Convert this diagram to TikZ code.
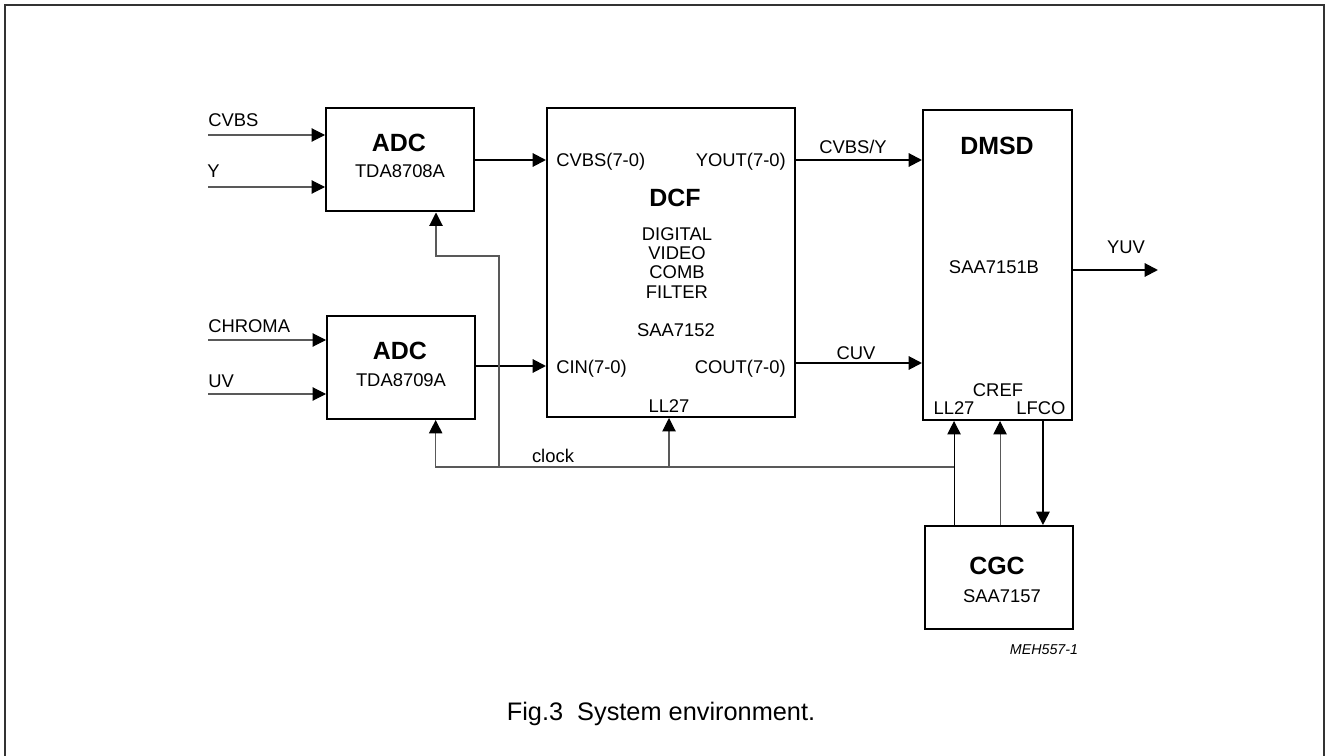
\documentclass[tikz,border=0pt]{standalone}
\usepackage{fontspec}
\setmainfont{Liberation Sans}
\usetikzlibrary{arrows.meta}
\usetikzlibrary{calc}

\tikzset{
  box/.style={draw, line width=1.5pt, inner sep=0pt},
  lbl/.style={inner sep=0pt, font=\fontsize{13.8}{16}\selectfont},
  ttl/.style={inner sep=0pt, font=\fontsize{18.7}{22}\selectfont\bfseries},
  tip/.style={-{Triangle[length=10pt,width=10pt,color=black]}},
  sig/.style={tip, line width=1.5pt},
  wire/.style={tip, draw=black!65, line width=0.8pt}
}

\begin{document}
\begin{tikzpicture}[x=0.75pt,y=-0.75pt]
  \useasboundingbox (0,0) rectangle (1329,756);
  \draw[line width=1.5pt,black!80] (5,756) -- (5,5) -- (1324,5) -- (1324,756);

  % blocks
  \node[box, minimum width=111pt, minimum height=77.25pt] (adc1) at (400,160) {};
  \node[box, minimum width=111pt, minimum height=77.25pt] (adc2) at (401,367.5) {};
  \node[box, minimum width=186pt, minimum height=231.75pt] (dcf) at (671,262.5) {};
  \node[box, minimum width=111.75pt, minimum height=232.5pt] (dmsd) at (997.5,265) {};
  \node[box, minimum width=111pt, minimum height=77.25pt] (cgc) at (999,577.5) {};

  % block texts
  \node[ttl, anchor=base] (adc1t) at (399,152) {ADC};
  \node[lbl, anchor=base] (adc1n) at (400,178) {TDA8708A};
  \node[ttl, anchor=base] (adc2t) at (400,359) {ADC};
  \node[lbl, anchor=base] (adc2n) at (401,386) {TDA8709A};
  \node[ttl, anchor=base] (dcft) at (675,207) {DCF};
  \node[lbl, anchor=base] (dcf1) at (677,241) {DIGITAL};
  \node[lbl, anchor=base] (dcf2) at (677,260) {VIDEO};
  \node[lbl, anchor=base] (dcf3) at (677,279) {COMB};
  \node[lbl, anchor=base] (dcf4) at (677,298) {FILTER};
  \node[lbl, anchor=base] (dcfn) at (676,336) {SAA7152};
  \node[lbl, anchor=base west] (cvbsp) at (556,167) {CVBS(7-0)};
  \node[lbl, anchor=base east] (youtp) at (786,167) {YOUT(7-0)};
  \node[lbl, anchor=base west] (cinp) at (556,373) {CIN(7-0)};
  \node[lbl, anchor=base east] (coutp) at (786,373) {COUT(7-0)};
  \node[lbl, anchor=base] (dcfllp) at (669,412) {LL27};
  \node[ttl, anchor=base] (dmsdt) at (997,155) {DMSD};
  \node[lbl, anchor=base] (dmsdn) at (994,274) {SAA7151B};
  \node[lbl, anchor=base] (crefp) at (998,396) {CREF};
  \node[lbl, anchor=base] (dmsdllp) at (954,414) {LL27};
  \node[lbl, anchor=base] (lfcop) at (1041,414) {LFCO};
  \node[ttl, anchor=base] (cgct) at (997,574) {CGC};
  \node[lbl, anchor=base] (cgcn) at (1002,602) {SAA7157};

  % inputs
  \coordinate (cvbsin) at (208,135);
  \coordinate (yin) at (208,187);
  \coordinate (chromain) at (208,340);
  \coordinate (uvin) at (208,394);
  \draw[wire] (cvbsin) -- (cvbsin -| adc1.west);
  \draw[wire] (yin) -- (yin -| adc1.west);
  \draw[wire] (chromain) -- (chromain -| adc2.west);
  \draw[wire] (uvin) -- (uvin -| adc2.west);
  \node[lbl, anchor=base west] (cvbsl) at (208,127) {CVBS};
  \node[lbl, anchor=base west] (yl) at (207,178) {Y};
  \node[lbl, anchor=base west] (chromal) at (208,332) {CHROMA};
  \node[lbl, anchor=base west] (uvl) at (208,387) {UV};

  % data paths
  \coordinate (yrow) at (0,160);
  \coordinate (crow) at (0,366);
  \coordinate (uvrow) at (0,363);
  \coordinate (yuvend) at (1158,270);
  \draw[sig] (adc1.east |- yrow) -- (dcf.west |- yrow);
  \draw[sig] (adc2.east |- crow) -- (dcf.west |- crow);
  \draw[sig] (dcf.east |- yrow) -- (dmsd.west |- yrow);
  \draw[sig] (dcf.east |- uvrow) -- (dmsd.west |- uvrow);
  \draw[sig] (dmsd.east |- yuvend) -- (yuvend);
  \node[lbl, anchor=base] (cvbsyl) at (853,154) {CVBS/Y};
  \node[lbl, anchor=base] (cuvl) at (856,359) {CUV};
  \node[lbl, anchor=base] (yuvl) at (1126,254) {YUV};

  % clock distribution
  \coordinate (clk) at (0,467);
  \coordinate (tap) at (499,256);
  \coordinate (ck1) at ([xshift=27pt]adc1.south);
  \coordinate (ck2) at ([xshift=26pt]adc2.south);
  \coordinate (dcfck) at ([xshift=-1.5pt]dcf.south);
  \coordinate (dmsdll) at ([xshift=-32.6pt]dmsd.south);
  \coordinate (cref) at ([xshift=1.9pt]dmsd.south);
  \coordinate (lfco) at ([xshift=34.1pt]dmsd.south);
  \draw[wire] (dmsdll |- clk) -- (ck2 |- clk) -- (ck2);
  \draw[wire] (tap |- clk) -- (tap) -- (tap -| ck1) -- (ck1);
  \draw[wire] (dcfck |- clk) -- (dcfck);
  \draw[wire, draw=black] (dmsdll |- cgc.north) -- (dmsdll);
  \draw[wire] (cref |- cgc.north) -- (cref);
  \draw[sig] (lfco) -- (lfco |- cgc.north);
  \node[lbl, anchor=base] (clockl) at (553,462) {clock};

  \node[inner sep=0pt, anchor=base, font=\fontsize{10.7}{12}\selectfont\itshape] (code) at (1044,654) {MEH557-1};
  \node[inner sep=0pt, anchor=base, font=\fontsize{19}{22}\selectfont] (caption) at (661,720) {Fig.3\ \ System environment.};
\end{tikzpicture}
\end{document}
